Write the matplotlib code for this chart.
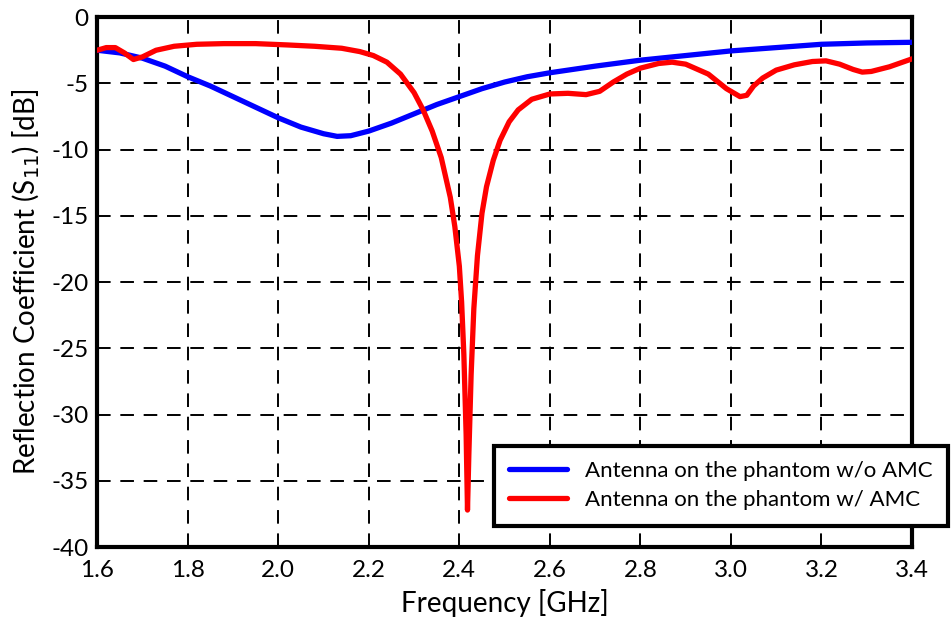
import numpy as np
import matplotlib.pyplot as plt

plt.rcParams['font.family'] = ['Lato', 'DejaVu Sans']

# Antenna on the phantom w/o AMC
f_noamc = [1.60, 1.65, 1.70, 1.75, 1.80, 1.85, 1.90, 1.95, 2.00, 2.05, 2.10,
           2.13, 2.16, 2.20, 2.25, 2.30, 2.35, 2.40, 2.45, 2.50, 2.55, 2.60,
           2.70, 2.80, 2.90, 3.00, 3.10, 3.20, 3.30, 3.40]
s_noamc = [-2.5, -2.7, -3.1, -3.7, -4.5, -5.2, -6.0, -6.8, -7.6, -8.3, -8.8,
           -9.0, -8.95, -8.6, -8.0, -7.3, -6.6, -6.0, -5.4, -4.9, -4.5, -4.2,
           -3.7, -3.25, -2.9, -2.55, -2.3, -2.05, -1.95, -1.9]

# Antenna on the phantom w/ AMC
f_amc = [1.60, 1.62, 1.64, 1.66, 1.68, 1.70, 1.73, 1.77, 1.82, 1.88, 1.95,
         2.02, 2.08, 2.14, 2.18, 2.21, 2.24, 2.27, 2.30, 2.32, 2.34, 2.36,
         2.38, 2.39, 2.40, 2.405, 2.41, 2.415, 2.418, 2.421, 2.426, 2.432,
         2.44, 2.45, 2.46, 2.475, 2.49, 2.51, 2.53, 2.56, 2.60, 2.64, 2.68,
         2.71, 2.74, 2.77, 2.80, 2.84, 2.87, 2.90, 2.95, 2.99, 3.02, 3.035,
         3.05, 3.07, 3.10, 3.14, 3.18, 3.21, 3.24, 3.27, 3.29, 3.31, 3.35,
         3.40]
s_amc = [-2.5, -2.3, -2.3, -2.7, -3.2, -3.0, -2.5, -2.2, -2.05, -2.0, -2.0,
         -2.1, -2.2, -2.35, -2.6, -2.9, -3.4, -4.3, -5.7, -7.0, -8.6, -10.6,
         -13.6, -15.8, -18.8, -21.5, -25.5, -31.5, -37.2, -33.0, -27.0, -22.0,
         -18.0, -14.8, -12.8, -10.8, -9.3, -7.9, -7.0, -6.2, -5.8, -5.75, -5.85,
         -5.6, -4.9, -4.3, -3.85, -3.5, -3.4, -3.55, -4.3, -5.4, -6.0, -5.9,
         -5.2, -4.6, -4.0, -3.6, -3.35, -3.3, -3.55, -3.95, -4.15, -4.1, -3.75,
         -3.15]

xticks = np.arange(1.6, 3.41, 0.2)
yticks = np.arange(-40, 1, 5)

fig = plt.figure(figsize=(9.53, 6.34), dpi=100)
ax = fig.add_axes([0.102, 0.137, 0.855, 0.836])

ax.plot(f_noamc, s_noamc, color='#0000ff', lw=3.8, solid_capstyle='round',
        label='Antenna on the phantom w/o AMC', zorder=3)
ax.plot(f_amc, s_amc, color='#ff0000', lw=3.8, solid_capstyle='round',
        label='Antenna on the phantom w/ AMC', zorder=3)

ax.set_xlim(1.6, 3.4)
ax.set_ylim(-40, 0)
ax.set_xticks(xticks)
ax.set_xticklabels([f'{v:.1f}' for v in xticks])
ax.set_yticks(yticks)
ax.set_yticklabels([f'{v:d}' for v in yticks])
ax.tick_params(length=0, labelsize=17.5)
ax.tick_params(axis='x', pad=9)
ax.tick_params(axis='y', pad=6)
ax.grid(True, color='black', ls=(0, (7, 5)), lw=1.4)
for sp in ax.spines.values():
    sp.set_linewidth(3)

ax.set_xlabel('Frequency [GHz]', fontsize=20, labelpad=6)
ax.set_ylabel('Reflection Coefficient (S$_{11}$) [dB]', fontsize=20, labelpad=7)

leg = ax.legend(loc='upper left', bbox_to_anchor=(0.518, 0.297),
                bbox_transform=fig.transFigure, fontsize=16, frameon=True,
                fancybox=False, framealpha=1, handlelength=2.6,
                handletextpad=0.8, borderpad=0.7, labelspacing=0.4,
                borderaxespad=0)
leg.get_frame().set_edgecolor('black')
leg.get_frame().set_linewidth(3)
leg.set_zorder(5)

fig.savefig('out.png', dpi=100)
